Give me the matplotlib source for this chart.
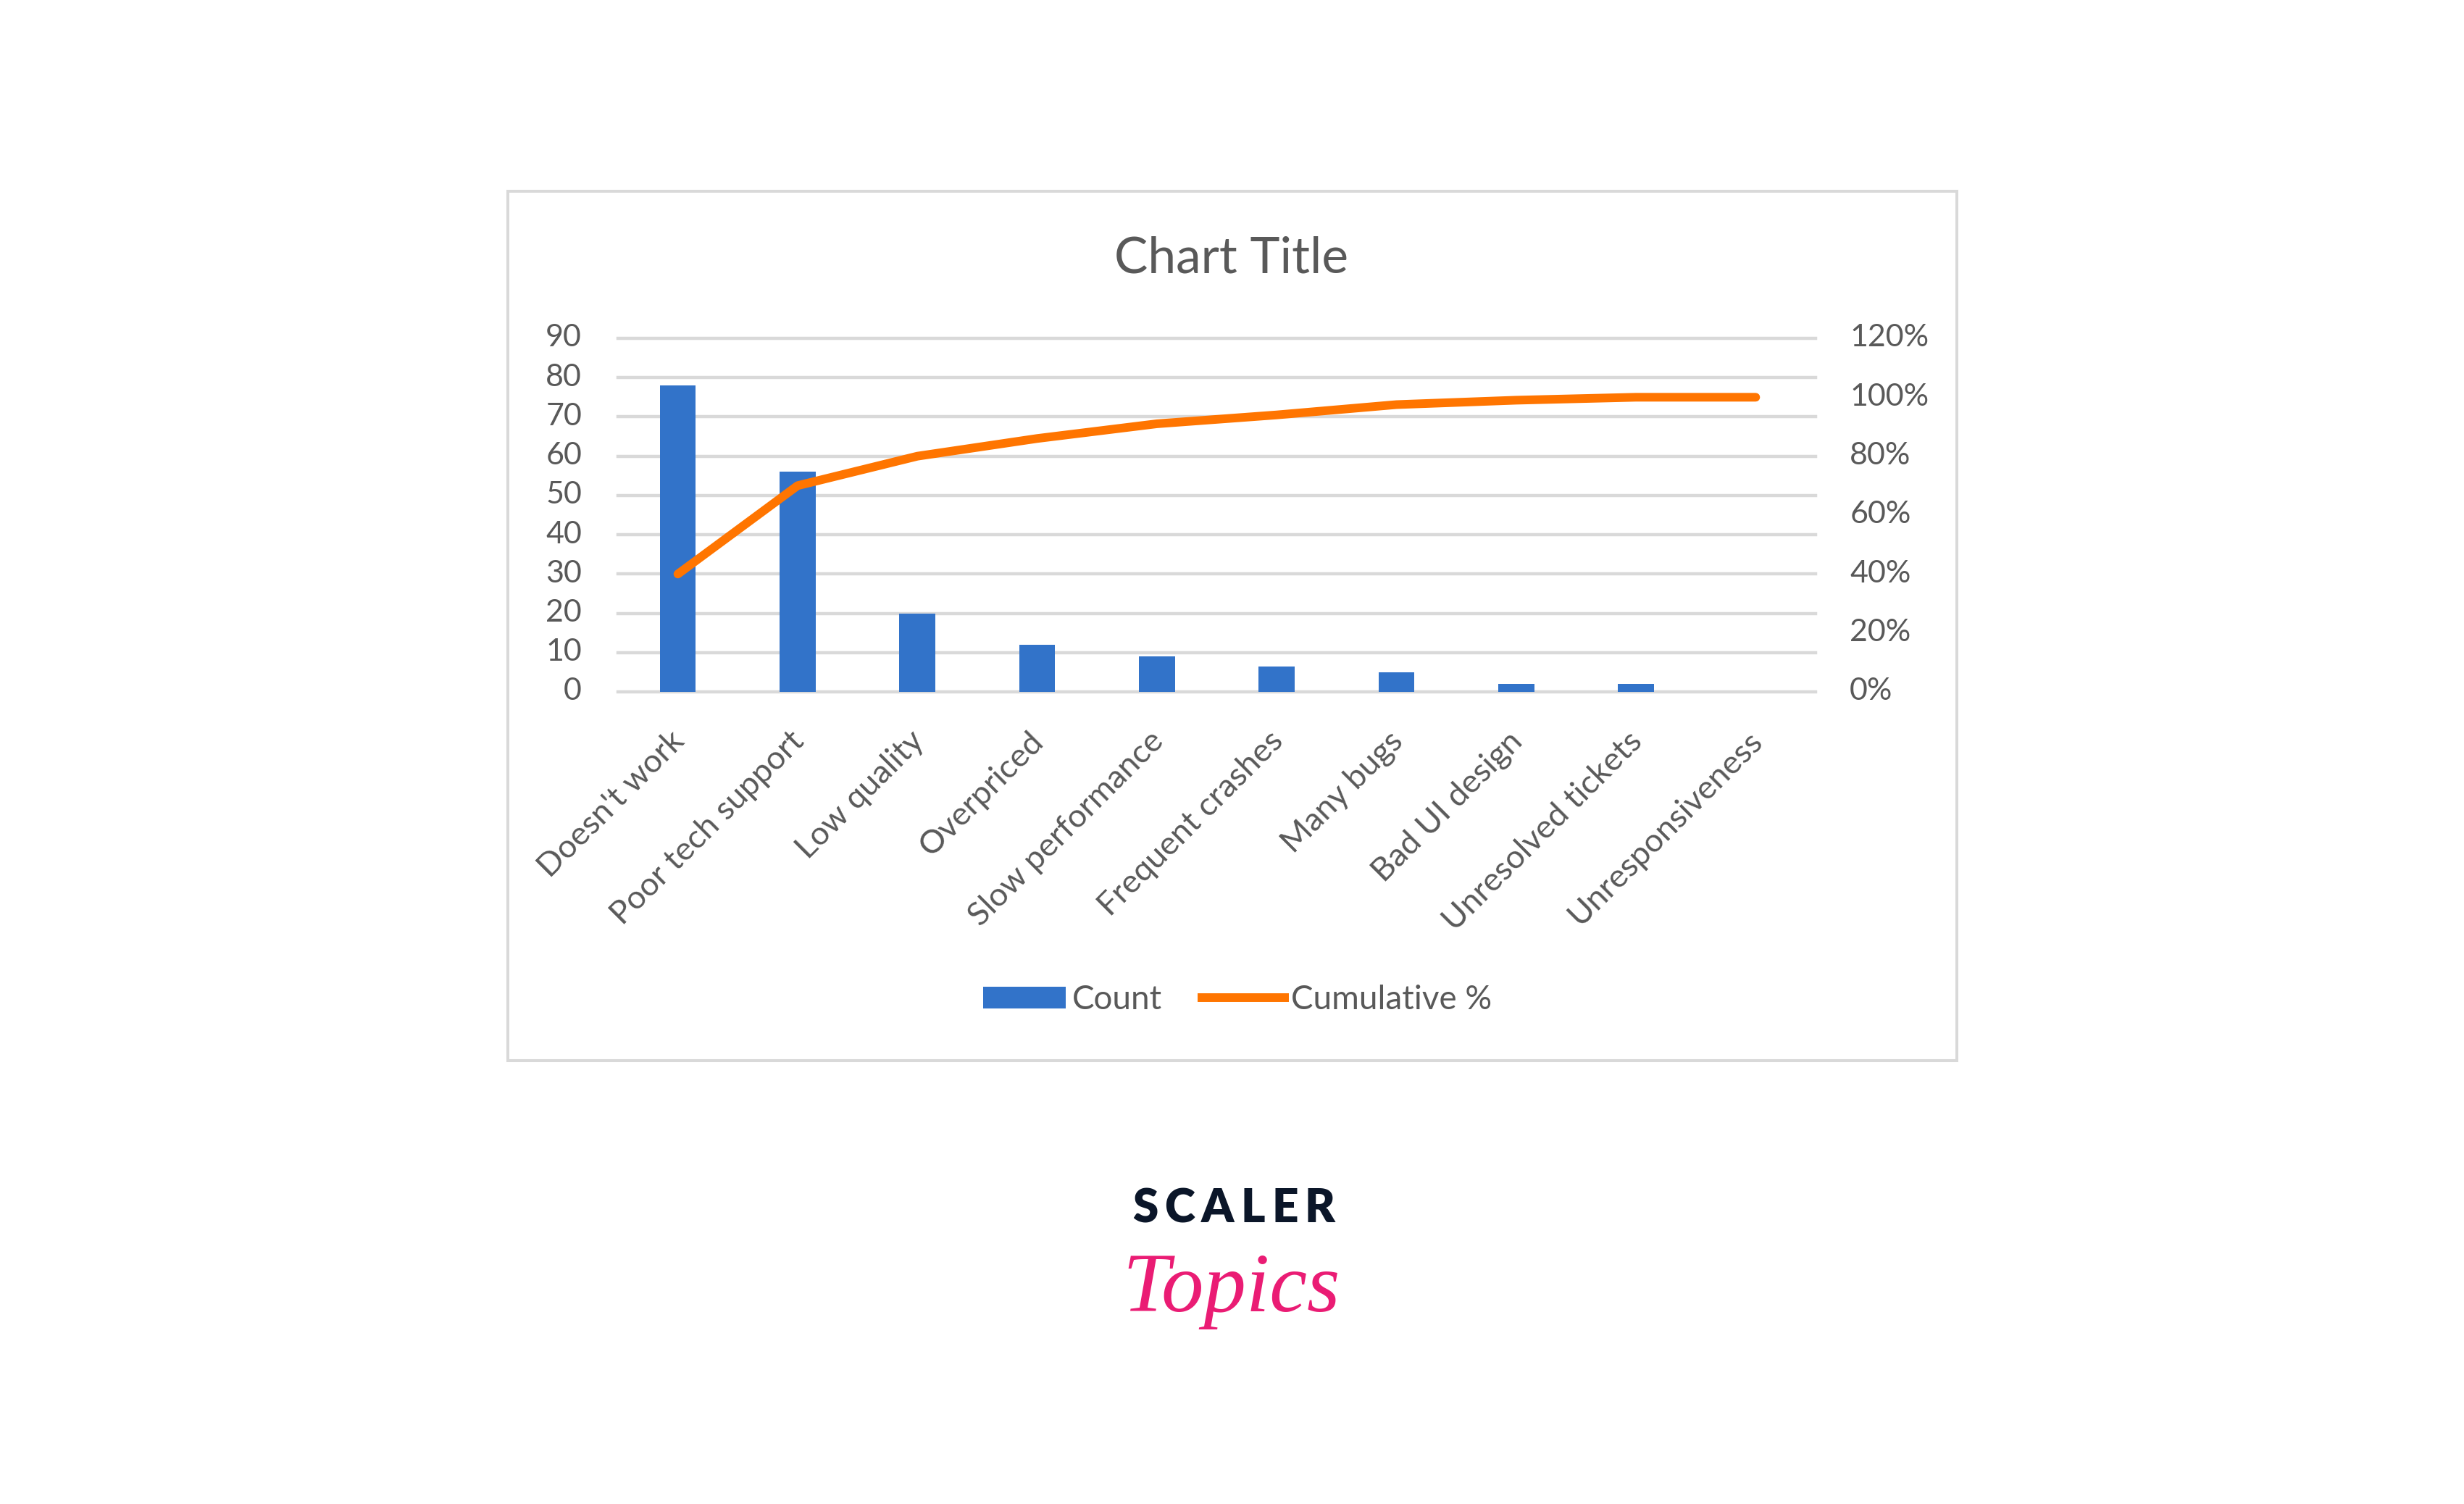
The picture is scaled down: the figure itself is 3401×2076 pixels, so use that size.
import numpy as np
import matplotlib
matplotlib.use('Agg')
import matplotlib.pyplot as plt
from matplotlib.patches import Rectangle, Patch
from matplotlib.lines import Line2D
from matplotlib.transforms import ScaledTranslation

# data
categories = ["Doesn't work", 'Poor tech support', 'Low quality', 'Overpriced',
              'Slow performance', 'Frequent crashes', 'Many bugs', 'Bad UI design',
              'Unresolved tickets', 'Unresponsiveness']
counts = [78, 56, 20, 12, 9, 6.5, 5, 2, 2, 0]
cum_pct = [0.40, 0.70, 0.80, 0.86, 0.91, 0.94, 0.975, 0.99, 1.00, 1.00]
left_ticks = list(range(0, 100, 10))
right_ticks = [0, 0.2, 0.4, 0.6, 0.8, 1.0, 1.2]
right_labels = ['0%', '20%', '40%', '60%', '80%', '100%', '120%']

BLUE = '#3273c9'
ORANGE = '#ff7500'
GREY = '#595959'
GRID = '#d9d9d9'

plt.rcParams['font.family'] = ['Lato', 'DejaVu Sans']

W, H = 3401, 2076
fig = plt.figure(figsize=(W / 100, H / 100), dpi=100)


def px_shift(dx, dy):
    return ScaledTranslation(dx / 100, dy / 100, fig.dpi_scale_trans)


# chart frame
fig.patches.append(Rectangle((701 / W, 1 - 1464 / H), 2000 / W, 1200 / H,
                             transform=fig.transFigure, fill=False,
                             edgecolor=GRID, linewidth=2.9))

# plot area
ax = fig.add_axes([853 / W, 1 - 955 / H, 1653 / W, 488 / H])
x = np.arange(len(categories))
ax.bar(x, counts, width=0.30, color=BLUE, zorder=2)
ax.set_xlim(-0.5, len(categories) - 0.5)
ax.set_ylim(0, 90)
ax.set_yticks(left_ticks)
ax.yaxis.grid(True, color=GRID, linewidth=3.2)
for gl in ax.get_ygridlines():
    gl.set_clip_on(False)
ax.set_axisbelow(True)
for s in ax.spines.values():
    s.set_visible(False)
ax.tick_params(axis='y', length=0, pad=36, labelsize=31, labelcolor=GREY)
ax.set_xticks(x)
ax.set_xticklabels(categories)
ax.tick_params(axis='x', length=0, pad=34, labelsize=32.5, labelcolor=GREY)
plt.setp(ax.get_xticklabels(), rotation=45, ha='right', rotation_mode='anchor')
for lab in ax.get_xticklabels():
    lab.set_transform(lab.get_transform() + px_shift(-12, 0))
for lab in ax.get_yticklabels():
    lab.set_transform(lab.get_transform() + px_shift(0, 4))

ax2 = ax.twinx()
ax2.plot(x, cum_pct, color=ORANGE, linewidth=8.6, solid_capstyle='round',
         solid_joinstyle='round')
ax2.set_ylim(0, 1.2)
ax2.set_yticks(right_ticks)
ax2.set_yticklabels(right_labels)
ax2.tick_params(axis='y', length=0, pad=34, labelsize=31, labelcolor=GREY)
for lab in ax2.get_yticklabels():
    lab.set_transform(lab.get_transform() + px_shift(0, 4))
for s in ax2.spines.values():
    s.set_visible(False)

# title
fig.text(1700 / W, 1 - 377 / H, 'Chart Title', ha='center', va='baseline',
         fontsize=50, color=GREY)

# legend
handles = [Patch(facecolor=BLUE, edgecolor='none'),
           Line2D([0], [0], color=ORANGE, linewidth=8.6)]
fig.legend(handles, ['Count', 'Cumulative %'], loc='center',
           bbox_to_anchor=(1708 / W, 1 - 1380 / H), ncol=2, frameon=False,
           fontsize=33, labelcolor=GREY, handlelength=2.5, handleheight=0.63,
           handletextpad=0.2, columnspacing=1.18, borderpad=0)

# logo: spaced capitals, then the script word
renderer = fig.canvas.get_renderer()
word = 'SCALER'
gap = 9
letters = []
cur = 0.0
for ch in word:
    t = fig.text(0, 1 - 1687 / H, ch, ha='left', va='baseline',
                 fontsize=46, fontweight='heavy', color='#0b1629')
    w = t.get_window_extent(renderer).width
    letters.append((t, cur))
    cur += w + gap
total = cur - gap
start = 1703 - total / 2
for t, off in letters:
    t.set_x((start + off) / W)

fig.text(1700 / W, 1 - 1810 / H, 'Topics', ha='center', va='baseline',
         fontsize=84, fontstyle='italic', family='Liberation Serif',
         color='#ea1c74')

fig.savefig('out.png', dpi=100)
